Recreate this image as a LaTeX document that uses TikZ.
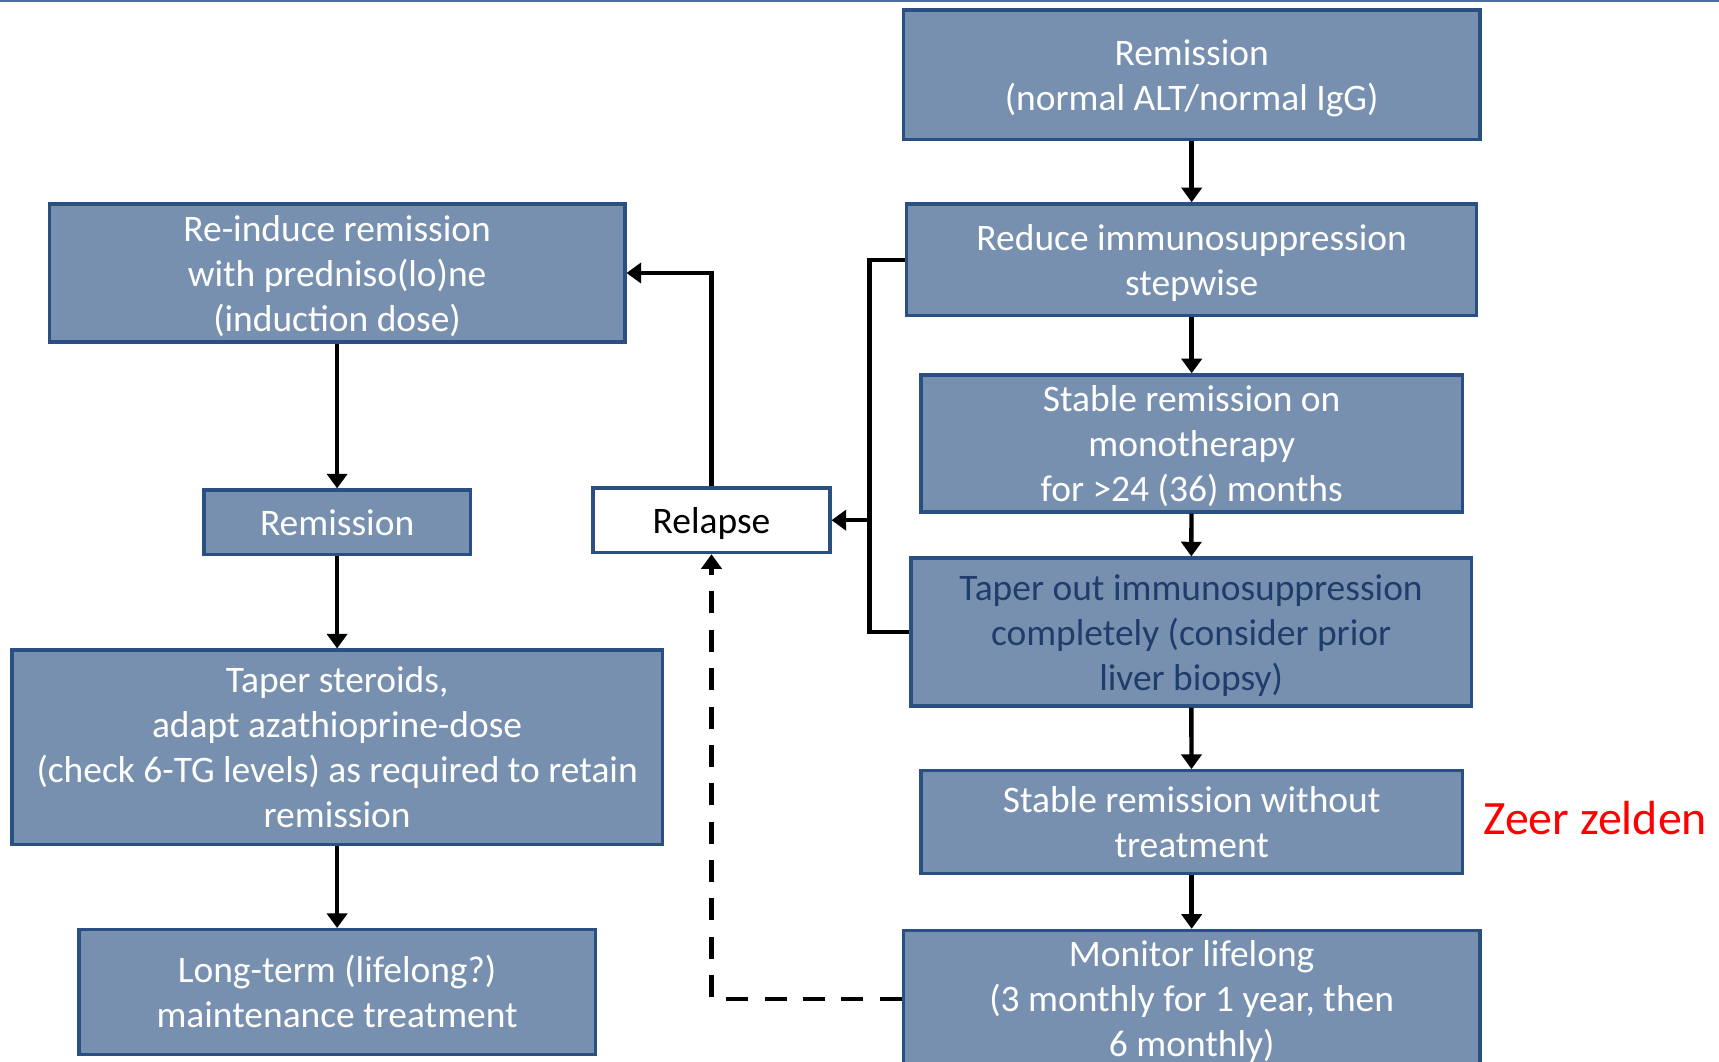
\documentclass[tikz,border=0pt]{standalone}
\usepackage{fontspec}
\setmainfont{Carlito}
\usetikzlibrary{arrows.meta}
\definecolor{boxfill}{HTML}{7790B0}
\definecolor{boxline}{HTML}{2A5083}
\definecolor{darktext}{HTML}{1F3D6B}
\definecolor{topline}{HTML}{4A6E9E}
\newcommand{\ts}{\rule{0pt}{10pt}}
\newcommand{\bs}{\rule[-2.8pt]{0pt}{2.8pt}}
\tikzset{
  bx/.style={draw=boxline, fill=boxfill, line width=0.9pt, text=white, align=center,
    font=\fontsize{10.25}{12.3}\selectfont, inner sep=0pt},
  wbx/.style={bx, fill=white, text=black},
  conn/.style={line width=1.2pt, -{Triangle[length=4pt,width=5.5pt]}},
  plain/.style={line width=1.2pt},
  dconn/.style={conn, dash pattern=on 6pt off 4.5pt}
}
\begin{document}
\begin{tikzpicture}[x=0.3pt,y=-0.3pt]
\useasboundingbox (0,0) rectangle (1568,968);
\begin{scope}
\clip (0,0) rectangle (1568,968);
\fill[white] (0,0) rectangle (1568,968);
\draw[topline, line width=0.6pt] (0,1) -- (1568,1);
% right column
\node[bx, minimum width=157.8pt, minimum height=35.4pt] (b1) at (1087,68) {\ts Remission\\(normal ALT/normal IgG)\bs};
\node[bx, minimum width=156pt, minimum height=30.6pt] (b2) at (1087,237) {\ts Reduce immunosuppression\\stepwise\bs};
\node[bx, minimum width=148.2pt, minimum height=37.5pt] (b3) at (1087,404.5) {\ts Stable remission on\\monotherapy\\for >24 (36) months\bs};
\node[bx, text=darktext, minimum width=153.3pt, minimum height=40.5pt] (b4) at (1086.5,576.5) {\ts Taper out immunosuppression\\completely (consider prior\\liver biopsy)\bs};
\node[bx, minimum width=148.2pt, minimum height=28.2pt] (b5) at (1087,750) {\ts Stable remission without\\treatment\bs};
\node[bx, minimum width=157.8pt, minimum height=37.2pt] (b6) at (1087,911) {\ts Monitor lifelong\\(3 monthly for 1 year, then\\6 monthly)\bs};
% left column
\node[bx, minimum width=157.5pt, minimum height=37.8pt] (l1) at (307.5,249) {\ts Re-induce remission\\with predniso(lo)ne\\(induction dose)\bs};
\node[bx, minimum width=72.9pt, minimum height=17.7pt] (l2) at (307.5,476.5) {\ts Remission\bs};
\node[bx, minimum width=177.9pt, minimum height=53.1pt] (l3) at (307.5,681.5) {\ts Taper steroids,\\adapt azathioprine-dose\\(check 6-TG levels) as required to retain\\remission\bs};
\node[bx, minimum width=141.3pt, minimum height=34.2pt] (l4) at (307.5,905) {\ts Long-term (lifelong?)\\maintenance treatment\bs};
% relapse
\node[wbx, minimum width=64.8pt, minimum height=17.7pt] (rel) at (649,474.5) {\ts Relapse\bs};
% label
\node[text=red, font=\fontsize{13.1}{15}\selectfont] (zz) at (1455,746) {Zeer zelden};
% connectors
\draw[conn] (b1) -- (b2);
\draw[conn] (b2) -- (b3);
\draw[conn] (b3) -- (b4);
\draw[conn] (b4) -- (b5);
\draw[conn] (b5) -- (b6);
\draw[conn] (l1) -- (l2);
\draw[conn] (l2) -- (l3);
\draw[conn] (l3) -- (l4);
\coordinate (jt) at (793,237);
\coordinate (j) at (793,474.5);
\draw[plain, line join=miter] (b2.west) -- (jt) |- (b4.west);
\draw[conn] (j) -- (rel.east);
\draw[conn, line join=miter] (rel.north) |- (l1.east);
\draw[dconn] (b6.west) -| (rel.south);
\end{scope}
\end{tikzpicture}
\end{document}
